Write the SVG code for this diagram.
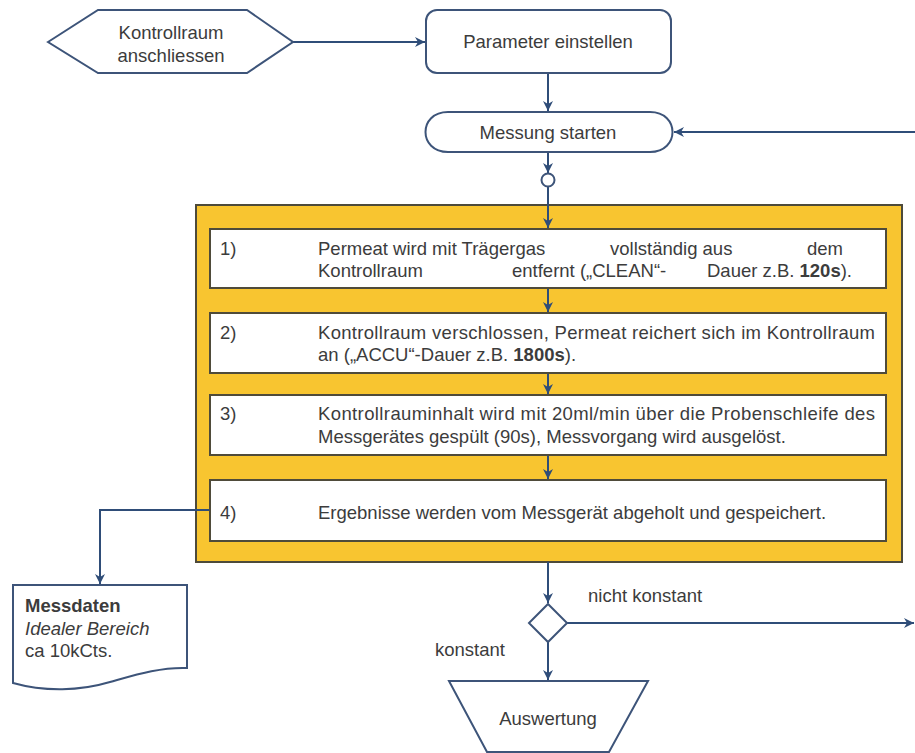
<svg xmlns="http://www.w3.org/2000/svg" width="915" height="753" viewBox="0 0 915 753">
<style>
text{font-family:"Liberation Sans",Arial,sans-serif;font-size:18.5px;fill:#3c3c3c}
.c{text-anchor:middle}
.b{font-weight:bold}
.i{font-style:italic}
.shape{fill:#fff;stroke:#3d5479;stroke-width:2}
.box{fill:#fff;stroke:#4f4b3a;stroke-width:2}
.conn{fill:none;stroke:#2f4d78;stroke-width:2}
</style>
<defs>
<marker id="ah" markerUnits="userSpaceOnUse" markerWidth="12" markerHeight="12" refX="10" refY="5" orient="auto">
<path d="M0,0 L10,5 L0,10 L3,5 Z" fill="#2f4d78"/>
</marker>
</defs>
<rect width="915" height="753" fill="#fff"/>

<g id="container">
<rect x="196" y="205" width="706" height="357" fill="#f8c530" stroke="#4d4a3a" stroke-width="2"/>
</g>

<g id="connectors">
<line class="conn" x1="293" y1="42" x2="425" y2="42" marker-end="url(#ah)"/>
<line class="conn" x1="548" y1="73" x2="548" y2="111" marker-end="url(#ah)"/>
<line class="conn" x1="915" y1="132" x2="674" y2="132" marker-end="url(#ah)"/>
<line class="conn" x1="548" y1="152" x2="548" y2="173" marker-end="url(#ah)"/>
<line class="conn" x1="548" y1="187" x2="548" y2="228" marker-end="url(#ah)"/>
<line class="conn" x1="548" y1="289" x2="548" y2="312" marker-end="url(#ah)"/>
<line class="conn" x1="548" y1="374" x2="548" y2="394" marker-end="url(#ah)"/>
<line class="conn" x1="548" y1="456" x2="548" y2="479" marker-end="url(#ah)"/>
<polyline class="conn" points="210,510 100,510 100,584" marker-end="url(#ah)"/>
<line class="conn" x1="548" y1="562" x2="548" y2="603" marker-end="url(#ah)"/>
<line class="conn" x1="567" y1="623" x2="914" y2="623" marker-end="url(#ah)"/>
<line class="conn" x1="548" y1="642" x2="548" y2="680" marker-end="url(#ah)"/>
<text x="588" y="602">nicht konstant</text>
<text x="435" y="656">konstant</text>
</g>

<g id="n-kontrollraum">
<polygon class="shape" points="48,42 98,10 247,10 293,42 247,73 98,73"/>
<text class="c" x="171" y="39">Kontrollraum</text>
<text class="c" x="171" y="62">anschliessen</text>
</g>

<g id="n-parameter">
<rect class="shape" x="426" y="10" width="245" height="63" rx="11"/>
<text class="c" x="548" y="48">Parameter einstellen</text>
</g>

<g id="n-messung">
<path class="shape" d="M448,112 H650 C680,112 680,152 650,152 H448 C418,152 418,112 448,112 Z"/>
<text class="c" x="548" y="139">Messung starten</text>
</g>

<g id="n-connector">
<circle class="shape" cx="548" cy="180" r="6.5"/>
</g>

<g id="n-step1">
<rect class="box" x="210" y="229" width="676" height="59"/>
<text x="220" y="255">1)</text>
<text x="318" y="255">Permeat wird mit Trägergas</text>
<text x="610" y="255">vollständig aus</text>
<text x="807" y="255">dem</text>
<text x="318" y="277">Kontrollraum</text>
<text x="512" y="277">entfernt („CLEAN“-</text>
<text x="707" y="277">Dauer z.B. <tspan class="b">120s</tspan>).</text>
</g>

<g id="n-step2">
<rect class="box" x="210" y="313" width="676" height="60"/>
<text x="220" y="339">2)</text>
<text x="318" y="339" textLength="557" lengthAdjust="spacing">Kontrollraum verschlossen, Permeat reichert sich im Kontrollraum</text>
<text x="318" y="361">an („ACCU“-Dauer z.B. <tspan class="b">1800s</tspan>).</text>
</g>

<g id="n-step3">
<rect class="box" x="210" y="395" width="676" height="60"/>
<text x="220" y="420">3)</text>
<text x="318" y="420" textLength="557" lengthAdjust="spacing">Kontrollrauminhalt wird mit 20ml/min über die Probenschleife des</text>
<text x="318" y="443">Messgerätes gespült (90s), Messvorgang wird ausgelöst.</text>
</g>

<g id="n-step4">
<rect class="box" x="210" y="480" width="676" height="61"/>
<text x="220" y="519">4)</text>
<text x="318" y="519">Ergebnisse werden vom Messgerät abgeholt und gespeichert.</text>
</g>

<g id="n-messdaten">
<path class="shape" d="M13,585 H187 V668 C160,667 135,675 110,682 C80,691 45,692 13,683 Z"/>
<text class="b" x="25" y="612">Messdaten</text>
<text class="i" x="25" y="635">Idealer Bereich</text>
<text x="25" y="657">ca 10kCts.</text>
</g>

<g id="n-decision">
<polygon class="shape" points="548,604 567,623 548,642 529,623"/>
</g>

<g id="n-auswertung">
<polygon class="shape" points="449,681 648,681 609,752 487,752"/>
<text class="c" x="548" y="725">Auswertung</text>
</g>
</svg>
